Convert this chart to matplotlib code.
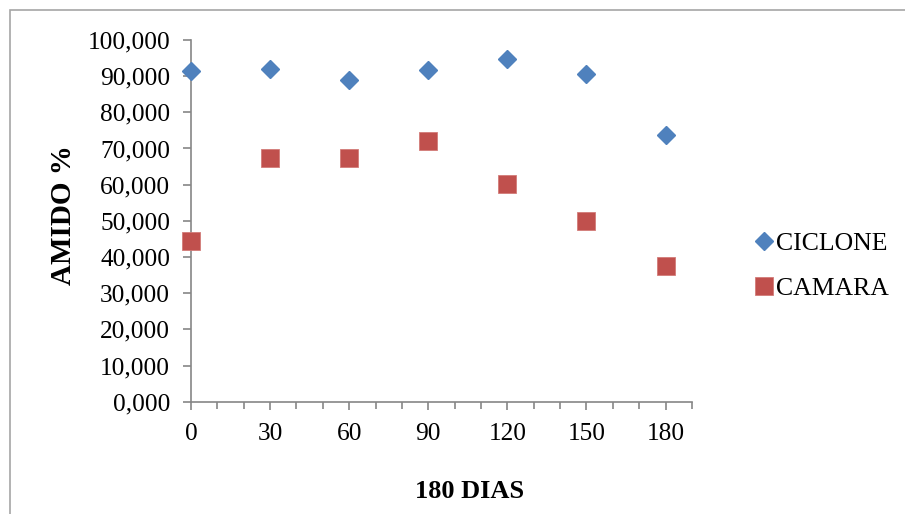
import numpy as np
import matplotlib.pyplot as plt
from matplotlib.ticker import FuncFormatter, MultipleLocator
from matplotlib.patches import Rectangle

plt.rcParams['font.family'] = ['Liberation Serif', 'DejaVu Serif']

# Data
dias = [0, 30, 60, 90, 120, 150, 180]
ciclone = [91.5, 92.1, 88.9, 91.6, 94.8, 90.5, 73.6]
camara = [44.4, 67.4, 67.5, 72.2, 60.3, 49.9, 37.4]

fig = plt.figure(figsize=(9.05, 5.14), dpi=100)
ax = fig.add_axes([0.2110, 0.2185, 0.5536, 0.7037])

ax.plot(dias, ciclone, linestyle='none', marker='D', markersize=9.6,
        color='#4F81BD', label='CICLONE', clip_on=False, zorder=3)
ax.plot(dias, camara, linestyle='none', marker='s', markersize=13.5,
        color='#C0504D', markeredgecolor='#D27B78', markeredgewidth=0.6,
        label='CAMARA', clip_on=False, zorder=3)

ax.set_xlim(0, 190)
ax.set_ylim(0, 100)
ax.xaxis.set_major_locator(MultipleLocator(30))
ax.xaxis.set_minor_locator(MultipleLocator(10))
ax.yaxis.set_major_locator(MultipleLocator(10))
ax.yaxis.set_major_formatter(FuncFormatter(lambda v, p: f'{v:.3f}'.replace('.', ',')))

for s in ['top', 'right']:
    ax.spines[s].set_visible(False)
for s in ['left', 'bottom']:
    ax.spines[s].set_color('#868686')
    ax.spines[s].set_linewidth(1.2)

ax.tick_params(axis='both', which='both', direction='out', color='#868686',
               width=1.2, labelsize=18.3)
ax.tick_params(axis='y', which='major', length=6, pad=9)
ax.tick_params(axis='x', which='major', length=6, pad=9)
ax.tick_params(axis='x', which='minor', length=5)

ax.set_xlabel('180 DIAS', fontsize=19, fontweight='bold')
ax.set_ylabel('AMIDO %', fontsize=21, fontweight='bold')
ax.xaxis.set_label_coords(0.557, -0.216)
ax.yaxis.set_label_coords(-0.2275, 0.516)

ax.legend(loc='center left', bbox_to_anchor=(1.102, 0.374), frameon=False,
          fontsize=18.5, handlelength=0.8, handletextpad=0.1, labelspacing=0.86,
          borderaxespad=0)

# outer chart border
fig.patches.append(Rectangle((10 / 905, -0.1), 1.0, 1 - 10 / 514 + 0.1,
                             transform=fig.transFigure, fill=False,
                             edgecolor='#A6A6A6', linewidth=1.2))

fig.savefig('out.png', dpi=100)
